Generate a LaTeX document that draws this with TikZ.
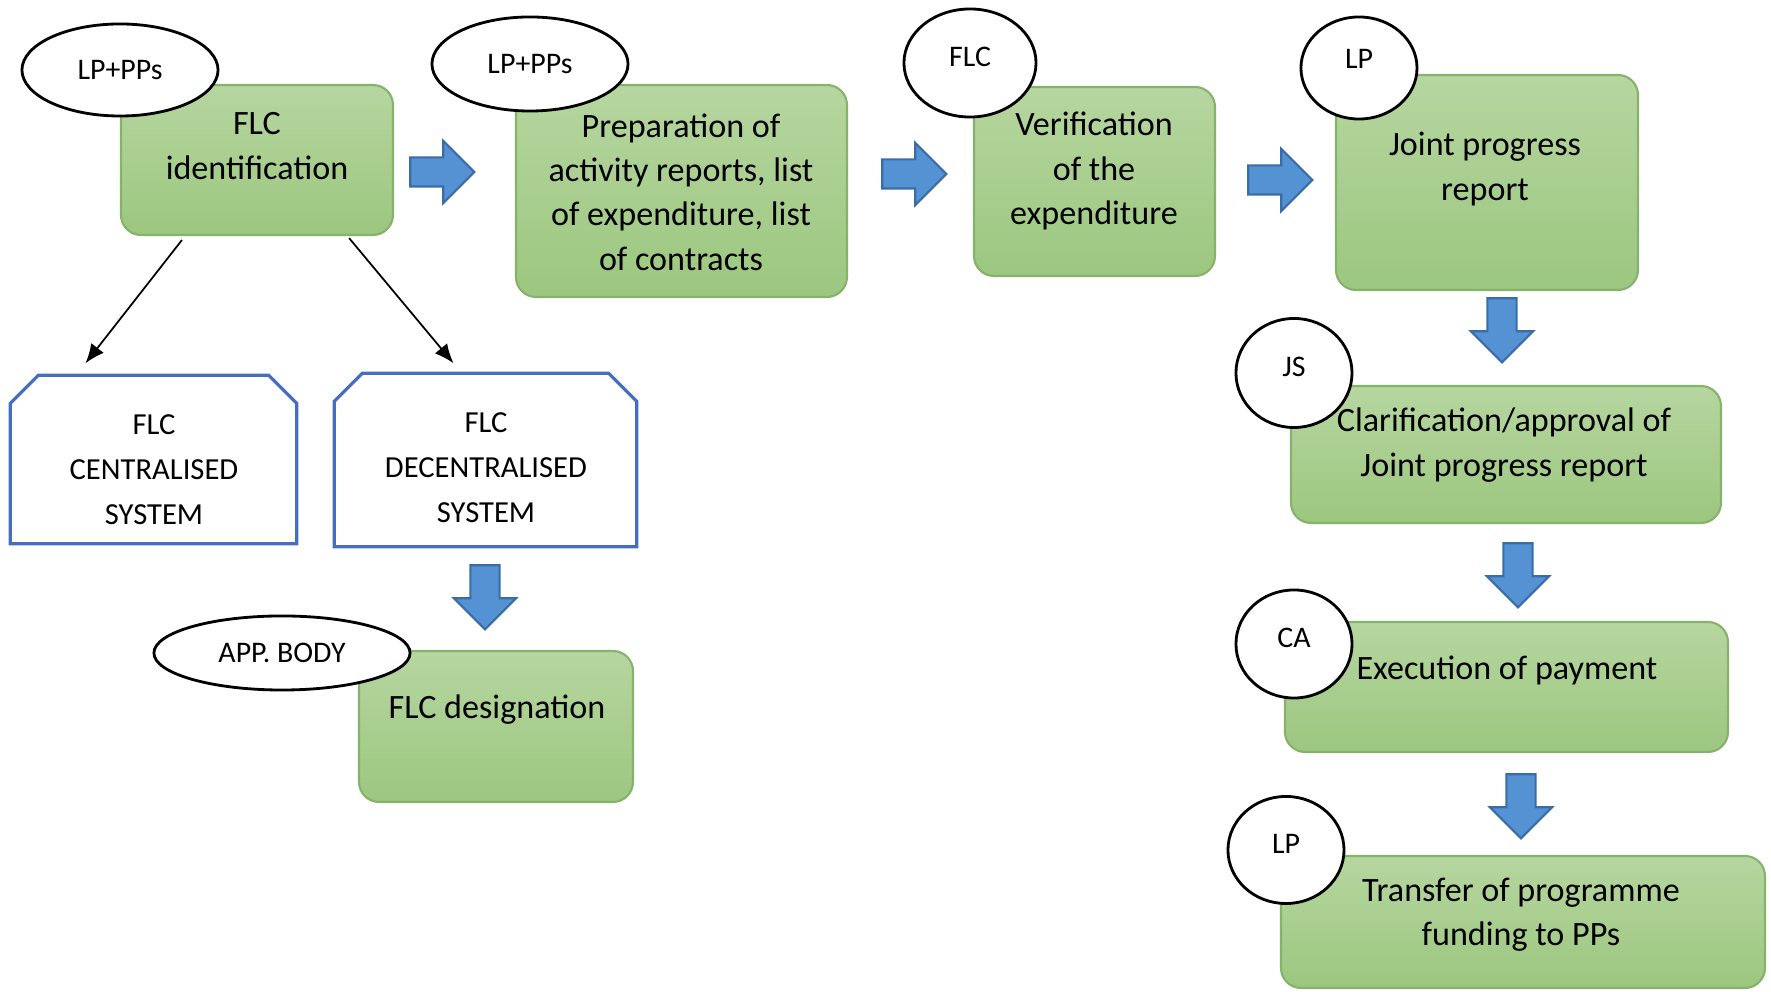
\documentclass[tikz,border=0pt]{standalone}
\usepackage{fontspec}
\setmainfont{Carlito}
\usetikzlibrary{shapes.geometric,shapes.arrows,fit,calc,arrows.meta}

\definecolor{boxtop}{RGB}{182,214,160}
\definecolor{boxbottom}{RGB}{156,199,127}
\definecolor{boxedge}{RGB}{135,178,108}
\definecolor{arrowfill}{RGB}{84,146,212}
\definecolor{arrowedge}{RGB}{58,108,165}
\definecolor{sysedge}{RGB}{70,110,192}

\begin{document}
\begin{tikzpicture}[x=0.01cm, y=-0.01cm,
    greenbox/.style={draw=boxedge, line width=0.6pt, top color=boxtop, bottom color=boxbottom, rounded corners=0.2cm, inner sep=0pt},
    boxtext/.style={align=center, font=\fontsize{9.7}{12.6}\selectfont},
    who/.style={draw, ellipse, line width=0.8pt, fill=white, inner sep=0pt, font=\fontsize{8.5}{10}\selectfont},
    raised/.style={text depth=3.4pt},
    sysarea/.style={inner sep=0pt},
    sysline/.style={draw=sysedge, line width=0.9pt, line join=miter},
    systext/.style={align=center, font=\fontsize{8.7}{12.8}\selectfont},
    blockright/.style={single arrow, draw=arrowedge, fill=arrowfill, line width=0.6pt, inner sep=0.135cm, minimum height=0.64cm, minimum width=0.6cm, single arrow head extend=0.165cm},
    blockdown/.style={blockright, shape border rotate=270},
    thinarrow/.style={-{Latex[length=5.5pt,width=4.5pt]}, line width=0.5pt}]
  \useasboundingbox (0,0) rectangle (1771,992);

  % steps
  \node[greenbox, fit={(121,85) (393,235)}] (flcid) {};
  \node[greenbox, fit={(516,85) (847,297)}] (prep) {};
  \node[greenbox, fit={(974,87) (1215,276)}] (verif) {};
  \node[greenbox, fit={(1336,75) (1638,290)}] (jpr) {};
  \node[greenbox, fit={(1291,386) (1721,523)}] (clar) {};
  \node[greenbox, fit={(1285,622) (1728,752)}] (exec) {};
  \node[greenbox, fit={(1281,856) (1765,988)}] (transfer) {};
  \node[greenbox, fit={(359,651) (633,802)}] (desig) {};

  \node[boxtext] (flcidtext) at (257,146) {FLC\\identification};
  \node[boxtext] (preptext) at (681,192) {Preparation of\\activity reports, list\\of expenditure, list\\of contracts};
  \node[boxtext] (veriftext) at (1094,171) {Verification\\of the\\expenditure};
  \node[boxtext] (jprtext) at (1485,169) {Joint progress\\report};
  \node[boxtext] (clartext) at (1504,445) {Clarification/approval of\\Joint progress report};
  \node[boxtext] (exectext) at (1507,670) {Execution of payment};
  \node[boxtext] (transfertext) at (1521,915) {Transfer of programme\\funding to PPs};
  \node[boxtext] (desigtext) at (497,710) {FLC designation};

  % systems
  \node[sysarea, fit={(11,376) (296,543)}] (cent) {};
  \node[sysarea, fit={(335,374) (636,546)}] (decent) {};
  \foreach \n in {cent,decent}
    \draw[sysline] ($(\n.north west)+(0,28)$) -- ($(\n.north west)+(28,0)$)
      -- ($(\n.north east)+(-28,0)$) -- ($(\n.north east)+(0,28)$)
      -- (\n.south east) -- (\n.south west) -- cycle;
  \node[systext] (centtext) at (154,470) {FLC\\CENTRALISED\\SYSTEM};
  \node[systext] (decenttext) at (486,468) {FLC\\DECENTRALISED\\SYSTEM};

  \draw[thinarrow] ($(flcid.south west)+(62,4)$) -- ($(cent.north)+(-68,-12)$);
  \draw[thinarrow] ($(flcid.south east)+(-45,2)$) -- ($(decent.north)+(-32,-10)$);

  % block arrows
  \node[blockright] (ar1) at (435,172) {};
  \node[blockright] (ar2) at (907,174) {};
  \node[blockright] (ar3) at (1273,180) {};
  \node[blockdown] (dn1) at (1502,323) {};
  \node[blockdown] (dn2) at (1518,568) {};
  \node[blockdown] (dn3) at (1521,799) {};
  \node[blockdown] (dn4) at (485,590) {};

  % who does it
  \node[who, minimum width=1.96cm, minimum height=0.92cm] (who1) at (120,70) {LP+PPs};
  \node[who, minimum width=1.96cm, minimum height=0.94cm] (who2) at (530,64) {LP+PPs};
  \node[who, raised, minimum width=1.32cm, minimum height=1.08cm] (who3) at (970,63) {FLC};
  \node[who, raised, text depth=5pt, minimum width=1.16cm, minimum height=1.02cm] (who4) at (1359,68) {LP};
  \node[who, raised, minimum width=1.16cm, minimum height=1.09cm] (who5) at (1294,373) {JS};
  \node[who, raised, minimum width=1.16cm, minimum height=1.08cm] (who6) at (1294,644) {CA};
  \node[who, raised, minimum width=1.16cm, minimum height=1.07cm] (who7) at (1286,850) {LP};
  \node[who, minimum width=2.56cm, minimum height=0.74cm] (who8) at (282,653) {APP. BODY};
\end{tikzpicture}
\end{document}
